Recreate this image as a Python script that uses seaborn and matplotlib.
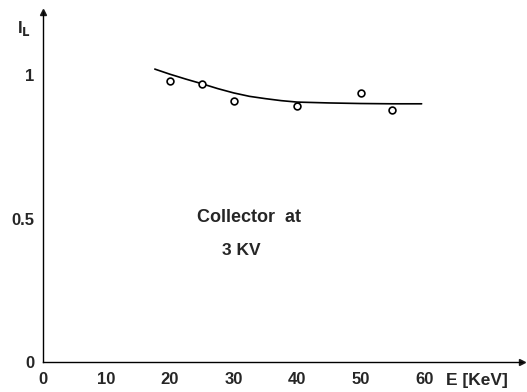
import matplotlib
matplotlib.use("Agg")
import matplotlib.pyplot as plt
import seaborn as sns
import pandas as pd

# measured points
energy_kev = [20, 25, 30, 40, 50, 55]
il_points = [0.979, 0.969, 0.910, 0.893, 0.936, 0.877]

# fitted curve
curve_x = [17.6, 20, 22.5, 25, 27.5, 30, 32.5, 35, 37.5, 40, 45, 50, 55, 59.6]
curve_y = [1.021, 1.003, 0.986, 0.970, 0.953, 0.938, 0.926, 0.918, 0.911, 0.906, 0.903, 0.901, 0.900, 0.900]

x_ticks = [0, 10, 20, 30, 40, 50, 60]
y_ticks = [0, 0.5, 1]
y_tick_labels = ["0", "0.5", "1"]

sns.set_theme(style="white")
plt.rcParams['font.family'] = ['Liberation Sans', 'DejaVu Sans']

fig = plt.figure(figsize=(5.27, 3.92), dpi=100)
ax = fig.add_axes([43/527, 30/392, 479/527, 350/392])

pts = pd.DataFrame({"E": energy_kev, "IL": il_points})
crv = pd.DataFrame({"E": curve_x, "IL": curve_y})

sns.lineplot(data=crv, x="E", y="IL", ax=ax, color="black", linewidth=1.2)
sns.scatterplot(data=pts, x="E", y="IL", ax=ax, marker="o", s=24,
                facecolor="white", edgecolor="black", linewidth=1.2, zorder=3)

ax.set_xlim(0, 75.4)
ax.set_ylim(0, 1.22)
ax.set_xticks(x_ticks)
ax.set_xticklabels([str(t) for t in x_ticks], fontsize=12, fontweight="bold")
ax.set_yticks(y_ticks)
ax.set_yticklabels(y_tick_labels, fontsize=12, fontweight="bold")
ax.set_xlabel("")
ax.set_ylabel("")

for s in ["top", "right"]:
    ax.spines[s].set_visible(False)
for s in ["left", "bottom"]:
    ax.spines[s].set_color("black")
    ax.spines[s].set_linewidth(1.0)

ax.tick_params(axis="x", direction="inout", length=6, width=1, color="black", pad=4)
ax.tick_params(axis="y", direction="out", length=5, width=1, color="black", pad=1)

# axis arrows
ax.plot(1, 0, ">k", transform=ax.get_yaxis_transform(), clip_on=False, markersize=4)
ax.plot(0, 1, "^k", transform=ax.get_xaxis_transform(), clip_on=False, markersize=4)

ax.text(24.3, 0.505, "Collector  at", fontsize=13, fontweight="bold", va="center", ha="left")
ax.text(28.2, 0.39, "3 KV", fontsize=12.5, fontweight="bold", va="center", ha="left")

fig.text(446/527, 1 - 380/392, "E [KeV]", fontsize=12.5, fontweight="bold", va="center", ha="left")
fig.text(17/527, 1 - 28/392, "I$_{\\mathbf{L}}$", fontsize=12, fontweight="bold", va="center", ha="left")

fig.savefig("out.png", dpi=100)
